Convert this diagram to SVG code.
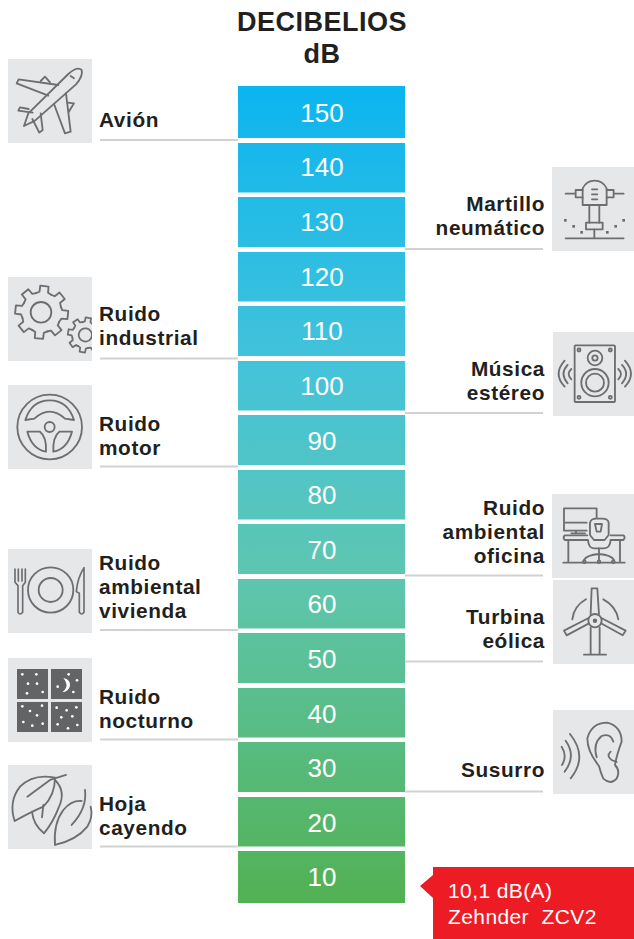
<svg xmlns="http://www.w3.org/2000/svg" xmlns:xlink="http://www.w3.org/1999/xlink" width="634" height="939" viewBox="0 0 634 939">
<style>
text{font-family:"Liberation Sans",Arial,sans-serif}
.t{font-size:27px;font-weight:700;fill:#231f20;text-anchor:middle;letter-spacing:.5px}
.n{font-size:26px;fill:#fff;text-anchor:middle}
.l{font-size:20.800px;font-weight:700;fill:#231f20;letter-spacing:.6px}
.r{text-anchor:end}
.w{font-size:21px;fill:#fff;letter-spacing:.4px}
.box{fill:#e6e7e8}
.c{stroke:#d1d2d4;stroke-width:2;fill:none}
.i{fill:none;stroke:#6d6e71;stroke-width:5.500;stroke-linejoin:round;stroke-linecap:round}
.dot{fill:#fff}
.d{fill:#6d6e71}
</style>
<defs>
<linearGradient id="g" gradientUnits="userSpaceOnUse" x1="0" y1="86" x2="0" y2="903">
<stop offset="0" stop-color="#0bb5f0"/><stop offset=".35" stop-color="#45c3d9"/><stop offset=".6" stop-color="#5ec6b0"/><stop offset="1" stop-color="#52b153"/>
</linearGradient>
<path id="tooth" d="M-23-55.4-12.9-60.6-12.5-79 12.5-79 12.9-60.6 23-55.4"/>
<g id="gear">
<use xlink:href="#tooth" href="#tooth"/><use xlink:href="#tooth" href="#tooth" transform="rotate(45)"/><use xlink:href="#tooth" href="#tooth" transform="rotate(90)"/><use xlink:href="#tooth" href="#tooth" transform="rotate(135)"/><use xlink:href="#tooth" href="#tooth" transform="rotate(180)"/><use xlink:href="#tooth" href="#tooth" transform="rotate(225)"/><use xlink:href="#tooth" href="#tooth" transform="rotate(270)"/><use xlink:href="#tooth" href="#tooth" transform="rotate(315)"/>
</g>
<clipPath id="gc"><rect x="24" y="681" width="252" height="252"/></clipPath>
</defs>
<rect width="634" height="939" fill="#fff"/>
<g id="title"><text class="t" x="322" y="31">DECIBELIOS</text><text class="t" x="322" y="63">dB</text></g>
<g id="scale" fill="url(#g)">
<rect x="238" y="86" width="167" height="52"/><rect x="238" y="143" width="167" height="49.500"/><rect x="238" y="197" width="167" height="50"/><rect x="238" y="252" width="167" height="49.500"/><rect x="238" y="306" width="167" height="50"/><rect x="238" y="361" width="167" height="49.500"/><rect x="238" y="415" width="167" height="50"/><rect x="238" y="470" width="167" height="49.500"/><rect x="238" y="524" width="167" height="50"/><rect x="238" y="579" width="167" height="49.500"/><rect x="238" y="633" width="167" height="50"/><rect x="238" y="688" width="167" height="49.500"/><rect x="238" y="742" width="167" height="50"/><rect x="238" y="797" width="167" height="49.500"/><rect x="238" y="851" width="167" height="52"/>
</g>
<g id="scale-labels">
<text class="n" x="322" y="122">150</text><text class="n" x="322" y="176">140</text><text class="n" x="322" y="231">130</text><text class="n" x="322" y="286">120</text><text class="n" x="322" y="340">110</text><text class="n" x="322" y="395">100</text><text class="n" x="322" y="450">90</text><text class="n" x="322" y="504">80</text><text class="n" x="322" y="559">70</text><text class="n" x="322" y="613">60</text><text class="n" x="322" y="668">50</text><text class="n" x="322" y="723">40</text><text class="n" x="322" y="777">30</text><text class="n" x="322" y="832">20</text><text class="n" x="322" y="886">10</text>
</g>
<g id="connectors" class="c">
<path d="M100 140H238M100 358.500H238M100 466.500H238M100 630H238M100 739.500H238M100 846.500H238"/>
<path d="M405 249H543M405 413H543M405 575.500H543M405 661.500H543M405 791.500H543"/>
</g>

<g id="avion">
<rect class="box" x="8" y="59" width="84" height="84"/>
<g class="i" transform="translate(0,50) scale(.3333)">
<path d="M72 228 85 190 205 72Q232 48 245 60 250 78 228 103L105 212Z"/>
<path d="M145 137 50 100 56 88 175 105"/><path d="M122 93 135 80 150 97"/>
<path d="M162 162 195 250 212 245 198 130"/><path d="M203 158 222 160 206 186"/>
<path d="M98 188 55 182 60 172 86 177"/><path d="M97 207 118 248 128 240 122 190"/>
<path d="M212 78 222 85"/>
</g>
<text class="l" x="99" y="127">Avión</text>
</g>

<g id="ruido-industrial">
<rect class="box" x="8" y="277" width="84" height="84"/>
<g clip-path="url(#gc)" transform="translate(0,50) scale(.3333)">
<g class="i">
<use xlink:href="#gear" href="#gear" transform="translate(125,787) rotate(6)"/>
<circle cx="123" cy="787" r="31"/>
<g transform="translate(256,855) rotate(10) scale(.66)" stroke-width="8"><use xlink:href="#gear" href="#gear"/><circle r="30"/></g>
</g>
</g>
<text class="l" x="99" y="321">Ruido</text><text class="l" x="99" y="345">industrial</text>
</g>

<g id="ruido-motor">
<rect class="box" x="8" y="385" width="84" height="84"/>
<g class="i" transform="translate(0,375) scale(.3333)" stroke-width="6">
<circle cx="149" cy="156" r="97"/><circle cx="149" cy="156" r="15"/>
<path d="M76 135Q95 76 149 76 203 76 222 135L195 131Q172 110 149 110 126 110 103 131Z"/>
<path d="M82 170 120 170Q140 185 138 230 96 222 82 170Z"/>
<path d="M216 170 178 170Q158 185 160 230 202 222 216 170Z"/>
</g>
<text class="l" x="99" y="431">Ruido</text><text class="l" x="99" y="455">motor</text>
</g>

<g id="ruido-vivienda">
<rect class="box" x="8" y="549" width="84" height="84"/>
<g class="i" transform="translate(0,375) scale(.3333)" stroke-width="6.500">
<circle cx="152" cy="645" r="68"/><circle cx="152" cy="645" r="36"/>
<path d="M45 582V622L54 632V712Q60 722 68 712V632L76 622V582M55 582V618M66 582V618" stroke-width="5"/>
<path d="M252 578Q232 610 229 650L238 655V712Q245 722 252 712Z" stroke-width="5"/>
</g>
<text class="l" x="99" y="570">Ruido</text><text class="l" x="99" y="594">ambiental</text><text class="l" x="99" y="618">vivienda</text>
</g>

<g id="ruido-nocturno">
<rect class="box" x="8" y="658" width="84" height="84"/>
<g transform="translate(0,645) scale(.3333)">
<g fill="#636466"><rect x="51" y="72" width="93" height="90"/><rect x="153" y="72" width="93" height="90"/><rect x="51" y="171" width="93" height="90"/><rect x="153" y="171" width="93" height="90"/></g>
<g class="dot">
<circle cx="67" cy="88" r="4"/><circle cx="109" cy="88" r="4"/><circle cx="84" cy="116" r="4"/><circle cx="111" cy="116" r="4"/><circle cx="81" cy="145" r="4"/><circle cx="128" cy="141" r="4"/>
<circle cx="206" cy="88" r="4"/><circle cx="231" cy="106" r="4"/><circle cx="173" cy="125" r="4"/><circle cx="220" cy="141" r="4"/>
<path d="M190 99Q212 104 210 122 206 140 187 142 203 128 199 116 197 107 190 99Z"/>
<circle cx="67" cy="184" r="4"/><circle cx="90" cy="198" r="4"/><circle cx="126" cy="182" r="4"/><circle cx="111" cy="211" r="4"/><circle cx="70" cy="231" r="4"/><circle cx="97" cy="242" r="4"/><circle cx="128" cy="236" r="4"/>
<circle cx="170" cy="188" r="4"/><circle cx="200" cy="196" r="4"/><circle cx="229" cy="187" r="4"/><circle cx="184" cy="217" r="4"/><circle cx="217" cy="214" r="4"/><circle cx="173" cy="238" r="4"/><circle cx="204" cy="250" r="4"/><circle cx="232" cy="240" r="4"/>
</g>
</g>
<text class="l" x="99" y="704">Ruido</text><text class="l" x="99" y="728">nocturno</text>
</g>

<g id="hoja-cayendo">
<rect class="box" x="8" y="765" width="84" height="84"/>
<g class="i" transform="translate(0,645) scale(.3333)">
<path d="M44 528Q25 470 60 425 100 385 165 398 165 450 130 485 95 500 44 528Z"/>
<path d="M82 455 150 405 198 390"/>
<path d="M165 405Q200 440 175 490 160 530 132 565 100 540 96 500"/><path d="M126 517 130 480"/>
<path d="M165 600Q160 535 190 495 215 465 245 468M165 600Q230 585 262 545 280 515 272 485M215 540Q262 490 255 435"/>
</g>
<text class="l" x="99" y="811">Hoja</text><text class="l" x="99" y="835">cayendo</text>
</g>

<g id="martillo">
<rect class="box" x="552" y="167" width="82" height="84"/>
<g class="i" transform="translate(400,160) scale(.3333)">
<path d="M548 135V85Q560 62 584 62 608 62 620 85V135Z"/>
<path d="M548 90H527V112H548M620 90H641V112H620M497 101H527M641 101H671M576 88H592M576 103H592M576 118H592"/>
<path d="M568 135V188M598 135V188"/><rect x="558" y="188" width="50" height="20"/>
<path d="M583 208V235M497 235H671"/>
</g>
<g class="d" transform="translate(400,160) scale(.3333)">
<rect x="492" y="177" width="8" height="8"/><rect x="517" y="195" width="8" height="8"/><rect x="541" y="213" width="8" height="8"/><rect x="618" y="213" width="8" height="8"/><rect x="643" y="195" width="8" height="8"/><rect x="667" y="177" width="8" height="8"/>
</g>
<text class="l r" x="545" y="211">Martillo</text><text class="l r" x="545" y="235">neumático</text>
</g>

<g id="musica">
<rect class="box" x="553" y="332" width="81" height="84"/>
<g class="i" transform="translate(400,160) scale(.3333)">
<rect x="524" y="556" width="121" height="170" rx="3"/>
<circle cx="585" cy="594" r="22"/><circle cx="585" cy="594" r="8"/>
<circle cx="585" cy="668" r="41"/><circle cx="585" cy="668" r="27"/>
<circle cx="537" cy="570" r="4.500"/><circle cx="631" cy="570" r="4.500"/><circle cx="537" cy="712" r="4.500"/><circle cx="631" cy="712" r="4.500"/>
<path d="M514 627Q498 642 514 658M503 615Q478 642 503 670M494 602Q458 642 494 680"/>
<path d="M655 627Q671 642 655 658M666 615Q691 642 666 670M675 602Q711 642 675 680"/>
</g>
<text class="l r" x="545" y="376">Música</text><text class="l r" x="545" y="400">estéreo</text>
</g>

<g id="ruido-oficina">
<rect class="box" x="552" y="494" width="82" height="84"/>
<g class="i" transform="translate(400,480) scale(.3333)" stroke-width="6">
<path d="M560 152H492V85H590V112M492 128H560M528 152V160M514 160H555"/>
<path d="M562 166H494Q488 172 494 180H562M632 166H670Q678 172 670 180H632"/>
<path d="M505 180V248M660 180V248M490 248H674"/>
<path d="M570 165V128Q573 116 588 116H607Q624 116 626 128V165L614 180H582Z"/>
<path d="M585 132H606L602 155H590Z"/>
<path d="M564 180Q566 205 582 205H612Q630 205 632 180"/>
<path d="M597 205V240M597 222Q560 225 552 240M597 222Q634 225 642 240"/>
<circle cx="553" cy="245" r="4"/><circle cx="597" cy="245" r="4"/><circle cx="640" cy="245" r="4"/>
</g>
<text class="l r" x="545" y="515">Ruido</text><text class="l r" x="545" y="539">ambiental</text><text class="l r" x="545" y="563">oficina</text>
</g>

<g id="turbina">
<rect class="box" x="553" y="580" width="81" height="84"/>
<g class="i" transform="translate(400,480) scale(.3333)">
<circle cx="585" cy="422" r="20"/><circle cx="585" cy="422" r="4" fill="#6d6e71"/>
<path d="M572 402 575 325H592L597 402"/>
<path d="M567 430 500 466 492 452 566 414"/>
<path d="M603 430 668 466 677 452 604 414"/>
<path d="M572 442V522M599 442V522M552 524H618"/>
<path d="M517 418Q522 378 558 358M610 358Q648 378 655 418"/>
</g>
<text class="l r" x="545" y="624">Turbina</text><text class="l r" x="545" y="648">eólica</text>
</g>

<g id="susurro">
<rect class="box" x="553" y="710" width="81" height="84"/>
<g class="i" transform="translate(400,700) scale(.3333)" stroke-width="4.500">
<path d="M597 198Q562 155 562 115 575 68 622 68 665 80 665 125 650 165 645 195 662 212 650 236 632 256 610 236 602 218 597 198Z"/>
<path d="M590 172Q578 130 605 108 632 98 640 125"/>
<path d="M632 155Q618 168 635 180L650 186"/>
<path d="M485 140Q503 168 486 195M497 122Q530 168 494 215M510 102Q565 170 512 235"/>
</g>
<text class="l r" x="545" y="777">Susurro</text>
</g>

<g id="zehnder">
<path d="M433 867H634V939H433V898L420 886 433 875Z" fill="#ed1c24"/>
<text class="w" x="448" y="898">10,1 dB(A)</text>
<text class="w" x="448" y="924" xml:space="preserve">Zehnder  ZCV2</text>
</g>
</svg>
